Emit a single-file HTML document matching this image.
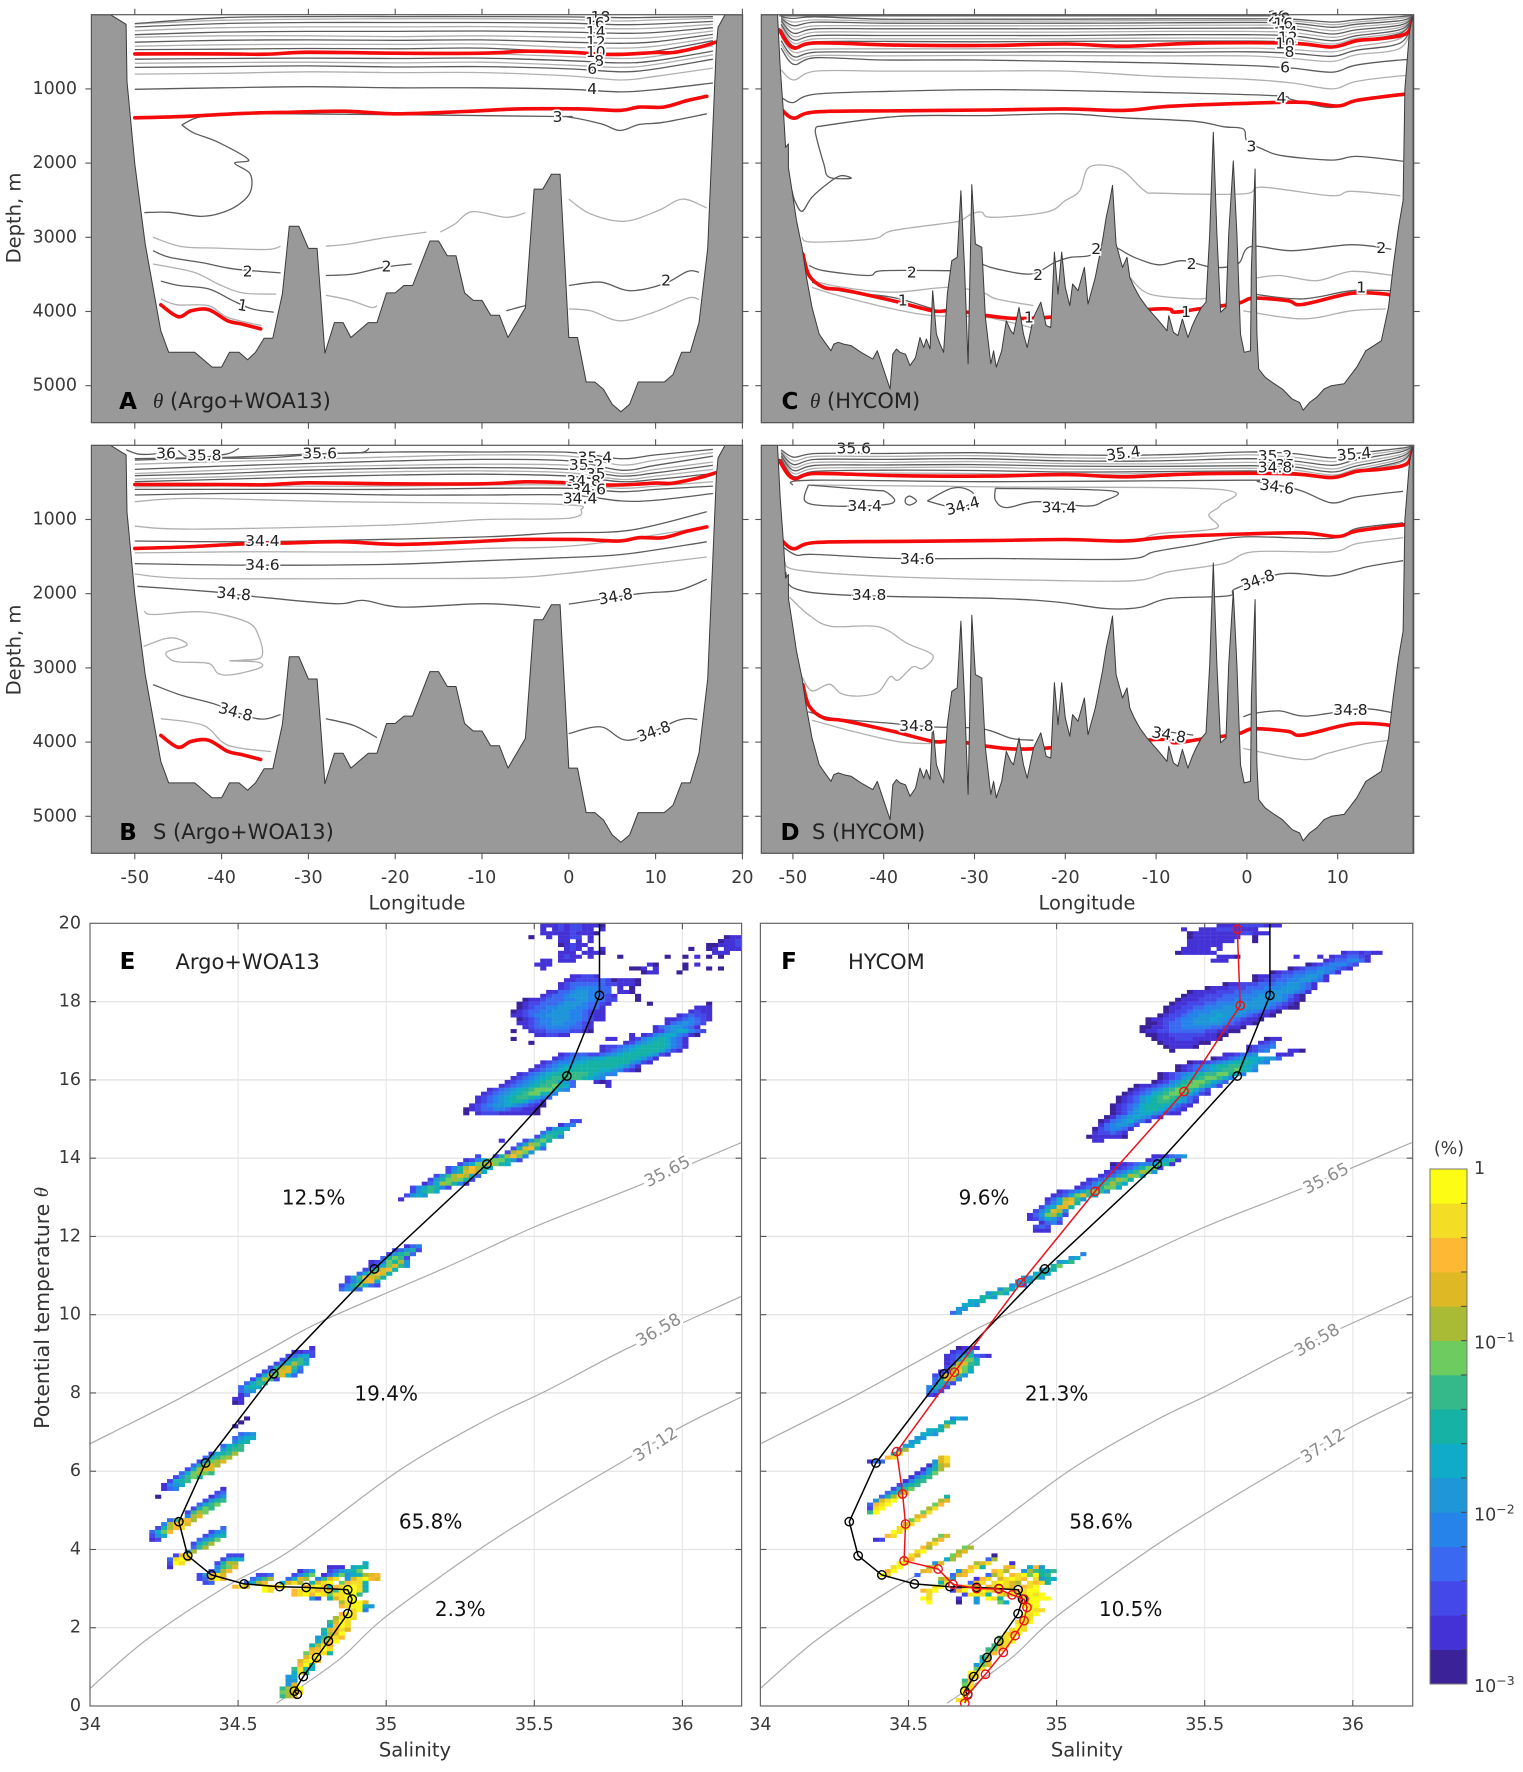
<!DOCTYPE html>
<html lang="en">
<head>
<meta charset="utf-8">
<title>Sections and T-S diagrams</title>
<style>
html,body{margin:0;padding:0;background:#fff}
svg{display:block}
text{font-family:"DejaVu Sans","Liberation Sans",sans-serif;fill:#333}
.ax{font-size:17.5px;fill:#3a3a3a}
.ttl{font-size:19.5px;fill:#333}
.pl{font-size:23px;font-weight:bold;fill:#000}
.cap{font-size:21px;fill:#222}
.pct{font-size:20px;fill:#111}
</style>
</head>
<body>
<svg id="fig" xmlns="http://www.w3.org/2000/svg" width="1523" height="1772" viewBox="0 0 1523 1772">
<defs>
<clipPath id="clipA"><rect x="91.4" y="14.7" width="651.2" height="408"/></clipPath>
<clipPath id="clipB"><rect x="91.4" y="445.3" width="651.2" height="408"/></clipPath>
<clipPath id="clipC"><rect x="761.3" y="14.7" width="652.4" height="408"/></clipPath>
<clipPath id="clipD"><rect x="761.3" y="445.3" width="652.4" height="408"/></clipPath>
<clipPath id="clipE"><rect x="90" y="923.3" width="651.6" height="782.7"/></clipPath>
<clipPath id="clipF"><rect x="760.4" y="923.3" width="652.3" height="782.7"/></clipPath>
</defs>
<g id="layers"></g>
<text class="ttl" transform="translate(14 218) rotate(-90)" text-anchor="middle" dominant-baseline="central">Depth, m</text>
<text class="ttl" transform="translate(14 650) rotate(-90)" text-anchor="middle" dominant-baseline="central">Depth, m</text>
<text class="ttl" x="417" y="903" text-anchor="middle" dominant-baseline="central">Longitude</text>
<text class="ttl" x="1087" y="903" text-anchor="middle" dominant-baseline="central">Longitude</text>
<text class="ttl" x="415" y="1750" text-anchor="middle" dominant-baseline="central">Salinity</text>
<text class="ttl" x="1087" y="1750" text-anchor="middle" dominant-baseline="central">Salinity</text>
<text class="ttl" style="font-size:20.5px" transform="translate(42 1308) rotate(-90)" text-anchor="middle" dominant-baseline="central">Potential temperature <tspan font-style="italic" style="font-family:'Liberation Serif',serif">θ</tspan></text>
<text class="pl" x="128" y="402" text-anchor="middle" dominant-baseline="central">A</text>
<text class="cap" x="153" y="401" dominant-baseline="central"><tspan font-style="italic" style="font-family:'Liberation Serif',serif">θ</tspan> (Argo+WOA13)</text>
<text class="pl" x="128" y="833" text-anchor="middle" dominant-baseline="central">B</text>
<text class="cap" x="153" y="832" dominant-baseline="central">S (Argo+WOA13)</text>
<text class="pl" x="790" y="402" text-anchor="middle" dominant-baseline="central">C</text>
<text class="cap" x="810" y="401" dominant-baseline="central"><tspan font-style="italic" style="font-family:'Liberation Serif',serif">θ</tspan> (HYCOM)</text>
<text class="pl" x="790" y="833" text-anchor="middle" dominant-baseline="central">D</text>
<text class="cap" x="812" y="832" dominant-baseline="central">S (HYCOM)</text>
<text class="pl" x="127.5" y="962" text-anchor="middle" dominant-baseline="central">E</text>
<text class="cap" x="175.5" y="962" dominant-baseline="central">Argo+WOA13</text>
<text class="pl" x="789" y="962" text-anchor="middle" dominant-baseline="central">F</text>
<text class="cap" x="848" y="962" dominant-baseline="central">HYCOM</text>
<text class="ax" x="1449" y="1149" text-anchor="middle" dominant-baseline="central">(%)</text>
</svg>
<script>
/* ---------- axes ---------- */
const depthTicks = [1000,2000,3000,4000,5000];
const lonTicksAB = [-50,-40,-30,-20,-10,0,10,20];
const lonTicksCD = [-50,-40,-30,-20,-10,0,10];
const thetaTicks = [0,2,4,6,8,10,12,14,16,18,20];
const salTicks = [34,34.5,35,35.5,36];
const salTickLabels = ['34','34.5','35','35.5','36'];

/* ---------- bathymetry [lon, depth] ---------- */
const bathyWoa = [[-55,0],[-52.8,0],[-51,130],[-50.9,900],[-50,2010],[-48.8,3090],[-47,4260],[-46.1,4550],[-43.1,4550],[-41.1,4750],[-40,4750],[-39.1,4550],[-38,4550],[-37,4650],[-36.1,4550],[-35.1,4360],[-34.1,4360],[-33,3760],[-32.2,2850],[-31.1,2850],[-30,3150],[-29,3150],[-28.1,4560],[-27,4150],[-26,4150],[-25.1,4350],[-23.1,4150],[-22.1,4150],[-21,3750],[-20,3750],[-19,3650],[-18,3650],[-16,3050],[-15,3050],[-14,3250],[-13,3250],[-12,3750],[-11,3850],[-10,3850],[-9,4050],[-8,4050],[-7,4350],[-5,3950],[-4,2350],[-3,2350],[-2,2150],[-1,2150],[0,4350],[1,4350],[2,4950],[3,4950],[4,5050],[5,5250],[6,5350],[7,5250],[8,4950],[11,4950],[12,4850],[13,4550],[14,4550],[15,4150],[16,3150],[17,400],[17.2,170],[18,0],[20,0],[20,5500],[-55,5500]];
const bathyHycom = [[-53.5,0],[-51.7,0],[-51.4,710],[-51,1380],[-50.8,1790],[-50.5,1740],[-50.5,2060],[-50.1,2370],[-49.6,2775],[-49,3135],[-48.5,3540],[-47.9,3945],[-47.1,4305],[-46.6,4395],[-45.8,4530],[-45.5,4440],[-45,4415],[-44.4,4440],[-43.6,4460],[-42.5,4550],[-41.2,4640],[-40.7,4530],[-40.1,4750],[-39.3,5045],[-39,4575],[-38.6,4505],[-38.2,4550],[-37.6,4575],[-37.1,4730],[-36.5,4620],[-36,4350],[-35.6,4485],[-35.3,4370],[-34.9,4505],[-34.6,3720],[-34.2,4305],[-33.8,4440],[-33.4,4550],[-33,3765],[-32.5,3315],[-31.9,3270],[-31.5,2370],[-31.1,3405],[-30.7,4705],[-30.3,2290],[-29.9,3090],[-29.2,3135],[-28.8,4080],[-28.2,4705],[-27.9,4530],[-27.6,4750],[-27,4530],[-26.5,4125],[-26,4260],[-25.7,4305],[-25.1,3945],[-24.6,4305],[-24.2,4485],[-23.5,4080],[-22.7,3875],[-22.1,4190],[-21.6,4215],[-21.2,3200],[-20.8,3765],[-20.4,3200],[-20,3675],[-19.5,3920],[-19.2,3630],[-18.6,3720],[-17.9,3405],[-17.5,3900],[-16.7,3540],[-15.9,3045],[-15.5,2730],[-15.1,2505],[-14.8,2300],[-14.4,3090],[-13.7,3405],[-13.2,3270],[-12.9,3540],[-12.4,3675],[-11.8,3810],[-11,3945],[-9.7,4125],[-8.8,4260],[-8.6,4055],[-8.1,4280],[-7.6,4325],[-7.1,4100],[-6.5,4350],[-6,4190],[-5.6,4080],[-5,3945],[-4.5,3875],[-4.1,2955],[-3.7,1585],[-3.3,2955],[-2.9,4010],[-2.3,3945],[-2,2955],[-1.5,1970],[-1.1,2955],[-0.7,4305],[-0.3,4550],[0.4,4530],[0.5,3405],[0.9,2080],[1.1,4305],[1.3,4775],[2,4885],[2.8,4955],[3.9,5045],[5,5180],[5.8,5225],[6.2,5330],[6.9,5225],[7.7,5155],[8.5,5045],[9.3,5000],[10.7,4975],[12.1,4750],[13.1,4530],[14.8,4395],[15.6,3945],[16.1,3405],[16.7,2865],[17.2,2505],[17.4,1000],[17.9,235],[18.3,0],[18.3,5500],[-53.5,5500]];

/* ---------- panel A: potential temperature, Argo+WOA13 ---------- */
const lonsWoa = [-50,-40,-30,-20,-10,0,6,10,16.6];
const thetaDarkA = [
 [120,40,25,25,25,30,40,35,25],[165,120,105,105,105,115,135,125,90],[270,235,225,225,220,235,250,240,175],
 [370,345,340,345,340,370,385,365,265],[470,465,455,460,450,505,520,490,350],[600,590,585,590,585,620,650,620,490],
 [710,700,690,705,700,730,770,730,600],[1005,985,970,985,985,1005,1040,1010,920]];
const thetaLightA = [
 [125,75,60,55,55,65,85,70,50],[215,175,165,165,160,175,190,180,130],[305,285,285,295,285,305,320,305,220],
 [425,405,400,400,395,440,450,425,310],[545,530,525,530,525,565,590,560,420],[655,645,640,650,640,680,710,670,540],
 [800,790,770,780,780,825,880,830,720]];
const segDarkA = [
 [[-44.6,1485],[-41.5,1360],[-32,1335],[-2.5,1370],[0,1380],[3.7,1470],[5.9,1560],[8.1,1480],[10.9,1450],[15.9,1335]],
 [[-44.6,1485],[-43.2,1593],[-40.4,1719],[-36.9,1953],[-38.5,2002],[-36.7,2146],[-36.7,2393],[-38.2,2573],[-40.4,2685],[-42.6,2717],[-46,2663],[-48.9,2667]],
 [[-47.9,3180],[-46,3270],[-42.1,3345],[-38.7,3425],[-33.2,3480]],
 [[-28,3515],[-24.8,3495],[-21.4,3405],[-18.1,3360]],
 [[0,3650],[3.7,3605],[7,3720],[10.9,3630],[13.7,3460],[15,3470]],
 [[-47,3590],[-44.9,3650],[-41.5,3695],[-38.7,3855],[-36.5,3965],[-34,4010]],
 [[-7.2,3990],[-5,3920]]];
const segLightA = [
 [[-47.9,3000],[-44.6,3125],[-40.4,3145],[-34.8,3165],[-33.2,3120]],
 [[-28,3120],[-25.3,3090],[-21.4,3010],[-16.4,2930]],
 [[-14.8,2930],[-13.1,2820],[-11.1,2655],[-7.2,2730],[-5,2670]],
 [[0,2485],[2.5,2685],[6.4,2785],[10.3,2640],[13.1,2485],[15.9,2605]],
 [[-47.9,3360],[-43.2,3470],[-40.4,3630],[-37.6,3750],[-33.7,3765]],
 [[-28,3780],[-25.3,3845],[-22.8,3945],[-22.1,3920]],
 [[0,3965],[2.5,3990],[5.9,4125],[9.8,4010],[13.7,3820],[15,3840]],
 [[-47,3830],[-45.1,3910],[-41.5,3920],[-39.3,4080],[-35.4,4190]]];
const densityLayerWoa = [
 [[-50,528],[-40,528],[-35,533],[-30,506],[-20,519],[-10,519],[-5,492],[0,506],[5,537],[10,510],[12,510],[15,438],[16.9,371]],
 [[-50,1390],[-44.3,1370],[-37.6,1330],[-32,1315],[-25.9,1300],[-19.8,1335],[-12,1305],[-5.8,1270],[1.4,1270],[5.9,1290],[8.1,1245],[10.9,1245],[13.7,1155],[15.9,1100]],
 [[-47,3910],[-45,4070],[-43.5,3990],[-41.5,3975],[-39.3,4125],[-37.6,4170],[-35.5,4235]]];
const labelsA = [['18',3.65,30,0],['16',3,115,0],['14',3.1,235,0],['12',3.1,370,0],['10',3.1,505,0],['8',3.5,625,0],['6',2.7,730,0],['4',2.7,1000,0],['3',-1.3,1380,0],['2',-37,3458,0],['2',-21,3395,0],['2',11.2,3584,0],['1',-37.6,3920,10]];

/* ---------- panel B: salinity, Argo+WOA13 ---------- */
const salDarkB = [
 [200,165,120,90,90,95,180,130,55],[325,280,245,210,190,210,335,270,145],[410,380,335,310,300,325,415,370,270],
 [490,460,425,400,390,415,490,460,380],[595,595,595,595,580,580,625,595,550],[670,650,650,670,670,670,750,740,650]];
const salLightB = [
 [255,220,190,155,130,145,265,200,100],[380,335,290,270,255,270,380,325,225],[455,425,380,355,345,370,460,415,325],
 [560,550,550,550,535,535,580,550,490]];
const segDarkB = [
 [[-51,60],[-49.5,120],[-47.5,115]],
 [[-45,70],[-43.5,165],[-39.5,120],[-38,40]],
 [[-50,180],[-43,170],[-35,170],[-28,110],[-24,100],[-23,40]],
 [[-50,1290],[-37.6,1300],[-26.5,1280],[-9.7,1235],[-1.4,1180],[7,1145],[15.9,895]],
 [[-50,1595],[-37.6,1615],[-20.9,1605],[-9.7,1555],[1.4,1505],[7,1460],[15.9,1300]],
 [[-49.7,1900],[-41,1975],[-36.5,2035],[-27,2135],[-23.7,2090],[-19.2,2180],[-9.7,2135],[-3.3,2185]],
 [[0,2140],[8.1,2000],[12.6,1955],[15.9,1805]],
 [[-47.9,3225],[-44.6,3370],[-41,3480],[-35.9,3685],[-33.2,3630]],
 [[-28,3685],[-24.8,3775],[-22.1,3940]],
 [[0,3885],[3.7,3795],[7,3975],[12.6,3705],[14.8,3695]]];
const segLightB = [
 [[-50,760],[-43.2,715],[-26.5,760],[-1.4,795],[1.4,875],[-0.2,985],[-9.7,1000],[-20.9,1075],[-43.2,1130],[-50,1090]],
 [[-50,1450],[-37.6,1435],[-20.9,1435],[-9.7,1390],[1.4,1345],[15.9,1100]],
 [[-50,1735],[-43.2,1795],[-20.9,1795],[-6.9,1785],[1.4,1705],[15.9,1505]],
 [[-48.9,2230],[-47.9,2280],[-42.1,2245],[-37.1,2380],[-35.7,2580],[-35.4,2850],[-37.6,2895],[-39,2905],[-35.9,2920],[-35.5,2995],[-38.7,3090],[-40.4,3075],[-41.5,2940],[-44.9,2920],[-46,2875],[-46.3,2785],[-44,2695],[-45.1,2605],[-46.5,2605],[-49,2710]],
 [[-47,3685],[-42.1,3775],[-39.3,4040],[-34.3,4130]]];
const labelsB = [['36',-46.4,110,0],['35.8',-42,140,0],['35.6',-28.7,110,0],['35.4',3,165,0],['35.2',2,265,0],['35',3.1,390,0],['34.8',1.7,480,0],['34.6',2.3,595,0],['34.4',1.3,715,0],['34.4',-35.3,1290,0],['34.6',-35.3,1615,0],['34.8',-38.6,2005,5],['34.8',5.4,2040,-10],['34.8',-38.4,3595,15],['34.8',9.8,3860,-20]];

/* ---------- panel C: potential temperature, HYCOM ---------- */
const lonsHycom = [-51.3,-49.9,-47.5,-40,-30,-20,-10,0,5,9.4,12,16.9,18.2];
const thetaDarkC = [
 [30,50,30,60,60,60,55,55,60,100,70,25,10],[50,150,100,115,115,115,110,105,115,170,130,80,20],[80,250,190,190,190,190,185,180,190,260,205,140,30],
 [130,340,280,280,280,280,270,270,285,350,285,200,40],[200,425,365,360,365,360,355,355,370,435,355,250,50],[350,565,505,505,505,500,505,500,520,560,480,380,90],
 [450,670,580,610,610,630,650,685,720,775,680,610,610]];
const thetaLightC = [
 [40,100,70,85,85,85,80,80,85,135,100,50,15],[60,193,150,150,150,150,145,140,150,215,165,110,25],[100,295,235,235,235,235,225,225,240,305,245,170,35],
 [160,385,325,325,325,325,315,315,330,395,320,230,45],[300,505,465,460,460,455,460,450,470,500,430,320,70],[400,610,550,555,550,550,555,555,590,630,540,450,110],
 [745,880,760,760,760,760,830,870,920,1000,900,825,825]];
const segDarkC = [
 [[-51.2,1120],[-50,1185],[-47.5,1070],[-38.4,1030],[-27.6,1010],[-11.3,1045],[2.9,1090],[5,1145],[9.3,1250],[13.1,1135],[17.2,1090]],
 [[-47.4,1510],[-38.4,1370],[-28.7,1360],[-20,1335],[-13.5,1390],[-5.9,1435],[-2.6,1510],[-0.4,1540],[0,1700],[1.7,1810],[3.9,1900],[9.3,1960],[12.1,1910],[17.2,1975]],
 [[-47.4,1510],[-47.5,1605],[-46.6,2010],[-46,2190],[-43.6,2205],[-44.7,2170],[-46,2260],[-47.9,2460],[-49,2650],[-49.8,2505],[-50.1,2370]],
 [[-48.2,3380],[-46.6,3450],[-41.7,3515],[-40.1,3450],[-32.5,3450]],
 [[-29.2,3360],[-27.6,3425],[-23.8,3495],[-21.1,3335],[-19.4,3270],[-17.3,3245],[-15.1,3115],[-12.4,3270],[-9.7,3370],[-7,3315],[-3.7,3405],[-1,3360],[0.4,3125],[5,3180],[11.5,3100],[15.9,3160]],
 [[-47.9,3605],[-44.4,3730],[-39,3810],[-34.6,3965]],
 [[0.7,3765],[6.1,3830],[11.5,3720],[15.9,3720]],
 [[-51.5,15],[3,15]]];
const segLightC = [
 [[-49,3000],[-47.9,3065],[-41.2,3020],[-39,2910],[-32.5,2800],[-31.5,2775],[-30.3,2685],[-29.2,2660],[-28.1,2730],[-22.1,2660],[-20,2505],[-18.4,2370],[-17.3,2050],[-14,2080],[-11.3,2370],[-9.7,2405],[-0.4,2415],[1.7,2325],[9.3,2440],[11.5,2380],[16.9,2440]],
 [[-48.5,3495],[-47.7,3585],[-44.4,3675],[-39,3740],[-33,3675],[-29.2,3740],[-27.6,3830],[-23.5,3920]],
 [[-12.9,3540],[-10.7,3765],[-5.6,3830],[-4.2,3810]],
 [[0.4,3560],[3.6,3515],[7.7,3585],[11.5,3460],[16.1,3515]],
 [[-47.9,3675],[-45,3785],[-39,3965],[-34.6,4055],[-28.7,4080],[-23.2,4235]],
 [[-0.4,3990],[6.1,4100],[11.5,3990],[15.3,3965]]];
const densityLayerHycom = [
 [[-51.5,205],[-50,445],[-47.5,380],[-38.4,410],[-28.7,415],[-20,395],[-13.5,425],[-5.9,385],[4.9,385],[9.4,435],[12.1,350],[15,320],[17.6,250],[18.3,45]],
 [[-51.2,1285],[-49.9,1395],[-47.5,1310],[-38.4,1295],[-28.7,1285],[-20,1270],[-13.5,1290],[-8.6,1235],[-0.4,1195],[6.2,1180],[10,1230],[12.1,1155],[17.4,1070]],
 [[-48.9,3225],[-48.2,3515],[-46.6,3675],[-44.4,3710],[-39,3855],[-34.6,3990],[-33,3990],[-30.8,4010],[-28.7,4055],[-23.5,4090],[-9.9,3965],[-8,4010],[-5.3,3965],[-1,3890],[0.7,3820],[4.5,3855],[6.1,3905],[11.5,3755],[15.3,3765],[15.9,3810]]];
const labelsC = [['20',3.4,25,0],['18',3.7,50,0],['16',4,120,0],['14',4.5,235,0],['12',4.5,305,0],['10',4.2,385,0],['8',4.7,505,0],['6',4.2,710,0],['4',3.8,1125,0],['3',0.5,1775,0],['2',-36.9,3475,0],['2',-23,3505,0],['2',-16.6,3155,0],['2',-6.1,3360,0],['2',14.8,3145,0],['1',-37.9,3855,0],['1',-24,4080,0],['1',-6.7,4010,0],['1',12.6,3675,0]];

/* ---------- panel D: salinity, HYCOM ---------- */
const salDarkD = [
 [60,160,110,110,100,130,130,90,110,170,110,40,10],[100,260,190,190,180,210,210,180,210,270,195,90,20],[140,340,270,265,260,280,285,275,290,360,280,155,40],
 [180,420,350,335,340,360,355,345,365,430,350,215,60]];
const salLightD = [
 [80,210,150,150,140,170,170,130,160,220,150,65,15],[120,300,230,230,220,245,250,230,250,320,240,125,30],[160,380,310,300,295,320,320,310,330,400,320,185,50],
 [200,460,385,375,380,395,380,375,395,445,365,235,70]];
const segDarkD = [
 [[-50.1,535],[-47.9,470],[-27.6,490],[-0.4,470],[1.3,490],[5.8,605],[9.3,775],[12.1,695],[17.2,620]],
 [[-48.3,535],[-41.2,605],[-39.8,625],[-38.8,750],[-40.3,805],[-45.5,820],[-48.6,760],[-48.3,535]],
 [[-37.6,715],[-37.1,685],[-36.4,750],[-37.1,805],[-37.6,775],[-37.6,715]],
 [[-35.2,750],[-32.5,580],[-30.6,605],[-29.8,740],[-31.9,850],[-33.6,805],[-35.2,750]],
 [[-27.7,580],[-14.9,615],[-15.9,760],[-17.8,820],[-23.2,760],[-26.5,840],[-27.7,740],[-27.7,580]],
 [[-51.1,1370],[-49.6,1480],[-47.7,1470],[-38.4,1525],[-27.6,1525],[-13.5,1535],[-10.2,1435],[-5.9,1345],[-0.4,1235],[9.3,1255],[12.1,1120],[17.2,1045]],
 [[-50.8,1705],[-49.8,1930],[-43.9,2020],[-27.6,2065],[-21.1,2110],[-15.6,2200],[-11.8,2185],[-8.6,2065],[-2.1,2030],[-1.2,1930],[3.9,1730],[9.3,1760],[13.1,1640],[17.2,1555]],
 [[-48.3,3590],[-45.5,3680],[-39,3750],[-34.6,3795],[-29.2,3820],[-25.9,3950],[-23.5,3975]],
 [[-10.2,3840],[-5.9,3905]],
 [[-0.4,3660],[0.7,3615],[3.6,3580],[6.6,3650],[12.6,3550],[16.1,3605]]];
const segLightD = [
 [[-47.9,535],[-27.6,560],[-3.1,595],[-2.9,805],[-4.2,940],[-3.4,1120],[-9.7,1190],[-11.3,1255]],
 [[-50.9,1570],[-49.3,1685],[-38.4,1775],[-22.1,1820],[-12.4,1825],[-8.6,1705],[-2.6,1595],[0.7,1435],[9.3,1435],[12.1,1325],[17.2,1245]],
 [[-50.4,2045],[-48.2,2290],[-45.8,2440],[-40.6,2445],[-37.4,2670],[-34.6,2830],[-35.7,3010],[-36.8,2985],[-38.4,3165],[-39.3,3120],[-40.6,3325],[-42.8,3380],[-44.7,3345],[-46,3220],[-47.9,3310],[-49,3120]],
 [[-47.9,3705],[-43.9,3840],[-38.4,3995],[-34.6,4020]],
 [[-0.4,4085],[6.1,4235],[8.8,4155],[13.1,4020],[15.9,3975]]];
const labelsD = [['35.6',-43.3,40,0],['35.4',-13.6,110,-8],['35.2',3.1,145,0],['35',4.2,265,0],['34.8',3.1,300,0],['34.6',3.3,560,8],['35.4',11.8,120,-5],['34.4',-42.1,820,0],['34.4',-31.3,820,-15],['34.4',-20.7,840,0],['34.6',-36.3,1535,0],['34.8',-41.6,2020,0],['34.8',1.2,1820,-20],['34.8',-36.4,3785,0],['34.8',-8.6,3905,10],['34.8',11.4,3570,0]];

/* ---------- T-S diagrams: density curves [S, theta] ---------- */
const sigma3565 = [[34,6.7],[34.3,7.85],[34.6,9.09],[34.79,9.86],[35.2,11.2],[35.5,12.24],[35.84,13.26],[36.2,14.4]];
const sigma3658 = [[34,0.45],[34.19,1.69],[34.45,3.01],[34.68,3.99],[35.04,6],[35.33,7.28],[35.55,8.09],[35.82,9.16],[36.2,10.47]];
const sigma3712 = [[34.63,0.07],[34.84,1.18],[35,2.29],[35.33,4.08],[35.58,5.27],[35.81,6.3],[36,7.15],[36.2,7.9]];
const curveLabelsE = [['35.65',35.95,13.65,-27],['36.58',35.92,9.6,-30],['37.12',35.91,6.68,-33]];
const curveLabelsF = [['35.65',35.91,13.47,-27],['36.58',35.88,9.34,-30],['37.12',35.9,6.64,-33]];
const pctLabelsE = [['12.5%',34.755,13.0],['19.4%',35.0,7.98],['65.8%',35.15,4.72],['2.3%',35.25,2.48]];
const pctLabelsF = [['9.6%',34.755,13.0],['21.3%',35.0,7.98],['58.6%',35.15,4.72],['10.5%',35.25,2.48]];

/* mean profiles [S, theta] */
const profileArgo = [[35.72,20],[35.72,18.16],[35.61,16.1],[35.34,13.85],[34.96,11.17],[34.62,8.49],[34.39,6.21],[34.3,4.71],[34.33,3.84],[34.41,3.35],[34.52,3.12],[34.64,3.05],[34.73,3.03],[34.805,3],[34.87,2.97],[34.885,2.73],[34.87,2.36],[34.805,1.66],[34.765,1.24],[34.72,0.75],[34.69,0.38],[34.7,0.3]];
const profileHycom = [[35.61,20],[35.61,19.85],[35.62,17.9],[35.43,15.7],[35.13,13.15],[34.88,10.82],[34.655,8.53],[34.46,6.5],[34.48,5.42],[34.49,4.65],[34.485,3.71],[34.6,3.5],[34.65,3.11],[34.73,3],[34.805,2.99],[34.85,2.84],[34.89,2.73],[34.9,2.52],[34.89,2.18],[34.86,1.8],[34.82,1.37],[34.76,0.81],[34.7,0.28],[34.69,0.07]];

/* colour levels, darkest (10^-3) to brightest (1) */
const colorLevels = ['#3b2299','#4532d6','#4548e8','#3b68f0','#2583ea','#1f96d8','#0fabc8','#15b2a5','#35b98b','#6ccc5f','#a9bb35','#dfb925','#fdb933','#f3dd25','#fcfc14'];
const colorbarLabels = [[0,'10','−3'],[5,'10','−2'],[10,'10','−1'],[15,'1','']];

/* heatmap rows: [theta bin, first salinity bin, level per 0.02 salinity bin (.=empty)] */
const cellsE = [
[19.9,35.52,"11121221110"],[19.8,35.52,"1.1212211.1"],[19.7,35.52,"1111121110"],[19.6,35.48,"0..1.1122.1"],[19.5,35.58,"11.1.1"],[19.4,35.58,"01211"],[19.3,35.6,"121.1.1"],[19.2,35.58,"111.1110"],[19.1,35.58,"1211.1"],[19,35.52,"11.111"],[18.9,35.5,"111"],[18.8,35.52,"1"],
[19.6,36.14,"0111"],[19.5,36.12,"01121"],[19.4,36.08,"0011121"],[19.3,36.08,"01.111"],[19.3,36.02,"0"],[19.2,36.1,"111"],[19.1,35.78,"0"],[19.1,35.94,"0"],[19.1,36,"0.1"],[19.1,36.08,"0.0"],[18.9,35.88,"10"],[18.9,36,"0"],[18.9,36.04,"1"],[18.8,35.82,"001"],[18.8,35.9,"1"],[18.8,36,"0"],[18.8,36.08,"0.0"],[18.7,35.86,"011"],[18.7,35.98,"0"],
[18.6,35.62,"11221"],[18.5,35.6,"11222232"],[18.5,35.76,"01110"],[18.4,35.58,"1233333322"],[18.4,35.78,"1110"],[18.3,35.58,"123444433"],[18.3,35.78,"1.0"],[18.2,35.54,"11334554433"],[18.2,35.78,"110"],[18.1,35.52,"1233455544321"],[18.1,35.84,"0"],[18,35.46,"0112333445544322"],[18,35.84,"0"],[17.9,35.44,"0122333455543321"],[17.9,35.88,"0"],[17.8,35.44,"012334455544331"],[17.7,35.42,"0123344555443211"],[17.6,35.42,"1123445555443211"],[17.5,35.44,"012344555443211"],[17.4,35.44,"1123445544321"],[17.3,35.46,"123344443321"],[17.2,35.42,"0..12233332210"],[17.1,35.5,"112211"],[17,35.42,"0"],[16.9,35.48,"0"],
[17.9,36.08,"0"],[17.8,36.04,"111"],[17.7,36.02,"1211"],[17.6,35.98,"123221"],[17.5,35.94,"11234321"],[17.4,35.94,"1345432"],[17.3,35.9,"13455431"],[17.2,35.9,"124566432"],[17.1,35.82,"1.1245664310"],[17,35.74,"11"],[17,35.82,"1245676431"],[16.9,35.8,"12456776431"],[16.8,35.72,"122345677776431"],[16.7,35.72,"12345677776421"],[16.6,35.58,"1233322345677776521"],[16.5,35.56,"123445566777776531"],[16.4,35.52,"1234456677777775421"],[16.3,35.5,"123456677777776531"],[16.2,35.48,"1234567777776654210"],[16.1,35.44,"12345677888876544"],[16,35.42,"1234567888887654"],[15.9,35.4,"123456788653"],[15.9,35.7,"101"],[15.8,35.38,"1234567889763"],[15.8,35.74,"1"],[15.7,35.34,"12345678999754"],[15.6,35.32,"1234567899764"],[15.5,35.3,"1234567887643"],[15.4,35.3,"123456776431"],[15.3,35.28,"1234556543210"],[15.2,35.26,"0123344322110"],[15.1,35.26,"0.12221111110"],
[14.9,35.62,"22"],[14.8,35.58,"134"],[14.7,35.54,"2566"],[14.6,35.52,"3677"],[14.5,35.5,"26874"],[14.4,35.38,"1"],[14.4,35.46,"25897"],[14.3,35.44,"36a96"],[14.2,35.42,"27bc73"],[14.1,35.4,"2ab95"],[14,35.3,"2"],[14,35.36,"27ac94"],[13.9,35.26,"1246999752"],[13.8,35.24,"2469ab976"],[13.7,35.2,"247aca86"],[13.6,35.2,"257bca6"],[13.5,35.16,"258aba63"],[13.4,35.14,"2579a972"],[13.3,35.12,"136a9741"],[13.2,35.08,"2468742"],[13.1,35.08,"25786"],[13,35.06,"2565"],[12.9,35.04,"1"],
[11.7,35.06,"134"],[11.6,35.02,"23572"],[11.5,35,"25783"],[11.4,34.98,"37982"],[11.3,34.94,"12497a5"],[11.2,34.94,"1369b85"],[11.1,34.92,"258bc7"],[11,34.9,"369cb7"],[10.9,34.86,"258cba7"],[10.8,34.86,"247bc6"],[10.7,34.84,"2479632"],[10.6,34.84,"3553"],
[9.1,34.74,"1"],[9,34.68,"1122"],[8.9,34.66,"23562"],[8.8,34.64,"25785"],[8.7,34.62,"257a86"],[8.6,34.6,"27ab84"],[8.5,34.58,"249bb63"],[8.4,34.56,"26a9b63"],[8.3,34.54,"26a82"],[8.2,34.52,"3687"],[8.1,34.5,"3676"],[8,34.5,"355"],[7.9,34.5,"13"],[7.8,34.48,"11"],[7.7,34.48,"01"],[7.3,34.52,"0"],[7.2,34.5,"0"],[7.1,34.48,"0"],
[6.9,34.5,"345"],[6.8,34.48,"3566"],[6.7,34.48,"467"],[6.6,34.44,"3678"],[6.5,34.44,"5788"],[6.4,34.4,"2678a"],[6.3,34.38,"3689a"],[6.2,34.36,"269ab"],[6.1,34.34,"37aba"],[6,34.32,"26abb"],[5.9,34.3,"369a98"],[5.8,34.28,"25897"],[5.7,34.26,"2678"],[5.6,34.24,"1456"],[5.5,34.24,"134"],[5.3,34.22,"0"],
[5.5,34.44,"1"],[5.4,34.42,"23"],[5.3,34.4,"135"],[5.2,34.38,"2578"],[5.1,34.36,"3689"],[5,34.34,"2798"],[4.9,34.32,"28a9"],[4.8,34.32,"4ab"],[4.7,34.26,"38bca"],[4.6,34.24,"4acdb"],[4.5,34.22,"27acd"],[4.4,34.2,"369c"],[4.3,34.2,"256"],[4.2,34.2,"12"],
[4.5,34.44,"3"],[4.4,34.4,"245"],[4.3,34.38,"2467"],[4.2,34.36,"3579"],[4.1,34.34,"268a"],[4,34.34,"38a"],[3.9,34.32,"5a"],[3.8,34.28,"2bd"],[3.7,34.26,"3dec"],[3.6,34.26,"2ed"],[3.5,34.26,"1"],
[3.8,34.46,"222"],[3.7,34.44,"2566"],[3.6,34.42,"27aa"],[3.5,34.42,"489b"],[3.4,34.4,"25ac"],[3.3,34.36,"25cdb"],[3.2,34.36,"23bec"],[3.1,34.38,"23"],
[3.6,34.92,"6"],[3.5,34.8,"111"],[3.5,34.88,"677"],[3.4,34.7,"135"],[3.4,34.8,"2356"],[3.4,34.88,"79"],[3.3,34.56,"223"],[3.3,34.68,"2479"],[3.3,34.78,"1369a"],[3.3,34.86,"567abc"],[3.2,34.54,"358a"],[3.2,34.66,"36ba"],[3.2,34.76,"48bd"],[3.2,34.86,"5bdecb"],[3.1,34.52,"36ac"],[3.1,34.64,"6bda"],[3.1,34.74,"7bde"],[3.1,34.84,"9cdd7"],[3,34.48,"cdb"],[3,34.58,"edce"],[3,34.72,"cdec"],[3,34.8,"7cdeed6"],[2.9,34.58,"ed"],[2.9,34.68,"cdedcdb"],[2.9,34.82,"8deed7"],[2.8,34.68,"cdec"],[2.8,34.76,"ed"],[2.8,34.8,"9ddee8"],[2.7,34.74,"52"],[2.7,34.8,"7bdee"],[2.6,34.84,"adeeb"],[2.5,34.84,"cdee65"],[2.4,34.88,"de4"],
[2.3,34.84,"ced"],[2.2,34.82,"aded"],[2.1,34.8,"8bed"],[2,34.8,"6ced"],[1.9,34.78,"7bcdb"],[1.8,34.78,"6abe"],[1.7,34.76,"58bdc"],[1.6,34.76,"6ace"],[1.5,34.74,"7adc"],[1.4,34.74,"bced"],[1.3,34.72,"9cdd7"],[1.2,34.72,"bde"],[1.1,34.7,"bdec"],[1,34.7,"ce7"],[0.9,34.68,"8d76"],[0.8,34.68,"6d7"],[0.7,34.66,"56"],[0.6,34.66,"55"],[0.5,34.66,"5b"],[0.4,34.64,"8ade"],[0.3,34.64,"9abd"],[0.2,34.64,"8ab"]
];
const cellsF = [
[19.9,35.54,"11112222111"],[19.8,35.42,"1..1112221111"],[19.7,35.44,"01111111122111"],[19.6,35.44,"011111111"],[19.6,35.66,"0"],[19.5,35.44,"11111111"],[19.5,35.66,"0"],[19.4,35.44,"111111"],[19.3,35.42,"11111.1"],[19.2,35.4,"0111111"],[19.1,35.54,"1110"],[19,35.52,"111"],
[19.2,35.96,"1221211"],[19.1,35.8,"1"],[19.1,35.88,"1"],[19.1,35.92,"1223321"],[19,35.9,"12334431"],[18.9,35.84,"012344432"],[18.8,35.78,"01233444321"],[18.7,35.72,"012233445431"],[18.6,35.66,"0112233445541"],[18.5,35.66,"0122334455431"],[18.4,35.56,"0112223334455431"],[18.3,35.5,"0111222333444555431"],[18.2,35.44,"011112223334445555431"],[18.1,35.42,"011122233344455554310"],[18,35.4,"0111222333444555554210"],[17.9,35.38,"0112223344455555543210"],[17.8,35.36,"01122334445555555432100"],[17.7,35.36,"01223444555555443210"],[17.6,35.34,"01223445556555432110"],[17.5,35.3,"01122344555655432110"],[17.4,35.3,"0012334455555432110"],[17.3,35.28,"001123344444332110"],[17.2,35.28,"01122333333221100"],[17.1,35.3,"00112222221100"],[17,35.32,"011122211110"],[16.9,35.34,"011111100"],[16.8,35.36,"011110"],[16.7,35.38,"0"],
[17,35.7,"011"],[16.9,35.68,"123"],[16.8,35.64,"12334"],[16.7,35.64,"1234"],[16.7,35.78,"110"],[16.6,35.56,"112345"],[16.6,35.74,"111"],[16.5,35.52,"012345666553"],[16.4,35.44,"01123456777654"],[16.3,35.4,"01234567788765"],[16.2,35.4,"01234567889764"],[16.1,35.34,"012345678899764"],[16,35.34,"0123567899864"],[15.9,35.32,"0124578998653"],[15.8,35.26,"011234578998642"],[15.7,35.24,"01234578998642"],[15.6,35.22,"012346789986421"],[15.5,35.2,"01235678987532"],[15.4,35.2,"01235678876531"],[15.3,35.18,"01234677765321"],[15.2,35.18,"0123567765321"],[15.1,35.18,"012456654211"],[15,35.16,"0134565421"],[14.9,35.14,"013456431"],[14.8,35.14,"1345542"],[14.7,35.12,"0234431"],[14.6,35.12,"122321"],[14.5,35.1,"0111110"],[14.4,35.12,"11"],
[14,35.32,"112345"],[13.9,35.3,"125681"],[13.8,35.18,"01123446871"],[13.7,35.18,"112357992"],[13.6,35.16,"123468a95"],[13.5,35.14,"12357a96"],[13.4,35.1,"12368a97"],[13.3,35.08,"12468a86"],[13.2,35.06,"12347996"],[13.1,35,"123468a85"],[13,34.98,"12369b86"],[12.9,34.96,"136ab85"],[12.8,34.96,"246bc7"],[12.7,34.94,"256bb7"],[12.6,34.92,"247ba4"],[12.5,34.9,"1359a72"],[12.4,34.9,"124653"],[12.3,34.94,"1342"],[12.2,34.92,"232"],[12.1,34.92,"111"],
[11.5,35.08,"4"],[11.4,35.04,"56"],[11.3,35,"568"],[11.2,34.98,"79"],[11.1,34.94,"577"],[11,34.92,"676"],[10.9,34.88,"5585"],[10.8,34.86,"566"],[10.7,34.84,"563"],[10.6,34.8,"586"],[10.5,34.76,"5786"],[10.4,34.74,"775"],[10.3,34.7,"667"],[10.2,34.68,"665"],[10.1,34.66,"55"],[10,34.64,"35"],
[9.1,34.66,"0121"],[9,34.64,"1225"],[8.9,34.62,"12367321"],[8.8,34.62,"125996"],[8.7,34.62,"12ab87"],[8.6,34.62,"29c97"],[8.5,34.6,"13ad96"],[8.4,34.58,"23bd85"],[8.3,34.58,"36ba4"],[8.2,34.58,"3752"],[8.1,34.56,"4752"],[8,34.56,"442"],[7.9,34.56,"21"],
[7.3,34.64,"465"],[7.2,34.62,"77"],[7.1,34.6,"6a"],[7,34.56,"667"],[6.9,34.54,"665"],[6.8,34.52,"55"],[6.7,34.5,"56"],[6.6,34.48,"56"],[6.5,34.46,"6a"],[6.4,34.44,"7d"],[6.3,34.42,"cd"],[6.2,34.36,"143"],
[6.3,34.6,"bd"],[6.2,34.58,"5bd"],[6.1,34.56,"16ab"],[6,34.54,"157a"],[5.9,34.52,"1369"],[5.8,34.5,"1478"],[5.7,34.48,"1478"],[5.6,34.46,"2578"],[5.5,34.44,"2689"],[5.4,34.42,"368b"],[5.3,34.4,"37ad"],[5.2,34.38,"5bde"],[5.1,34.36,"3cde"],[5,34.36,"2de"],[4.9,34.36,"8e"],
[5.3,34.62,"7"],[5.2,34.6,"ab"],[5.1,34.58,"9c"],[5,34.56,"ad"],[4.9,34.54,"9d"],[4.8,34.52,"bc"],[4.7,34.5,"9d"],[4.6,34.48,"bd"],[4.5,34.46,"de"],[4.4,34.44,"ed"],[4.3,34.42,"cd"],[4.2,34.38,"12"],
[4.3,34.6,"9b"],[4.2,34.58,"ac"],[4.1,34.56,"bd"],[4,34.54,"ca"],[3.9,34.52,"de"],[3.8,34.5,"db"],[3.7,34.48,"ec"],[3.6,34.46,"ed"],[3.5,34.44,"de"],[3.4,34.42,"ce"],[3.3,34.4,"ed"],
[4,34.68,"9a"],[3.9,34.66,"ab"],[3.8,34.64,"9b"],[3.8,34.78,"0"],[3.7,34.62,"6a"],[3.7,34.76,"3a"],[3.6,34.58,"5b"],[3.6,34.72,"abd"],[3.6,34.84,"1"],[3.5,34.56,"ab"],[3.5,34.7,"cd7"],[3.5,34.82,"cb"],[3.5,34.9,"6c5"],[3.4,34.54,"bc"],[3.4,34.66,"5bd"],[3.4,34.78,"cda"],[3.4,34.88,"5a8"],[3.4,34.94,"768"],[3.3,34.52,"3"],[3.3,34.64,"3bc"],[3.3,34.76,"3ad"],[3.3,34.84,"cde9"],[3.3,34.92,"e78"],[3.2,34.6,"ab5"],[3.2,34.72,"1cd"],[3.2,34.8,"bdedc"],[3.2,34.92,"d57"],[3.2,34.98,"6"],[3.1,34.6,"7d"],[3.1,34.7,"3cd"],[3.1,34.78,"dedba"],[3.1,34.9,"dcd7"],[3,34.58,"de"],[3,34.66,"1cdd"],[3,34.76,"cdedb"],[3,34.88,"cde"],[2.9,34.54,"cde"],[2.9,34.64,"2ce"],[2.9,34.72,"cedbc"],[2.9,34.84,"dcdee"],[2.8,34.56,"d"],[2.8,34.68,"2"],[2.8,34.7,"ded7"],[2.8,34.8,"dbded"],[2.8,34.9,"ede"],[2.7,34.54,"ed"],[2.7,34.66,"1"],[2.7,34.72,"5"],[2.7,34.76,"ed7"],[2.7,34.88,"deeee"],[2.6,34.56,"e"],[2.6,34.66,"0"],[2.6,34.72,"5"],[2.6,34.8,"96"],[2.6,34.88,"dee"],[2.5,34.88,"ede"],[2.4,34.9,"edd"],
[2.3,34.88,"ede"],[2.2,34.88,"ed"],[2.1,34.86,"dde"],[2,34.86,"ed"],[1.9,34.84,"ded"],[1.8,34.82,"dce"],[1.7,34.8,"9de"],[1.6,34.8,"ade"],[1.5,34.78,"8bd"],[1.4,34.76,"89c"],[1.3,34.76,"9c"],[1.2,34.74,"7a"],[1.1,34.74,"6c"],[1,34.72,"59b"],[0.9,34.72,"9d"],[0.8,34.7,"ed"],[0.7,34.7,"bd"],[0.6,34.68,"8c"],[0.5,34.68,"9d"],[0.4,34.68,"dd"],[0.3,34.68,"e"],[0.2,34.68,"e"],[0.1,34.66,"de"]
];

/* ---------- axis functions ---------- */
const NS = 'http://www.w3.org/2000/svg';
const root = document.getElementById('layers');
function mk(tag, attrs, parent) {
  const el = document.createElementNS(NS, tag);
  for (const k in attrs) el.setAttribute(k, attrs[k]);
  parent.appendChild(el);
  return el;
}
const xWoa = lon => 91.4 + (lon + 55) * 8.68;
const xHycom = lon => 792.9 + (lon + 50) * 9.08;
const depthY = top => d => top + d * 0.0742;
const tsX = left => s => left + (s - 34) * 296.2;
const tsY = t => 1706 - t * 39.13;
const pathOf = (pts, fx, fy) => pts.map((p, i) => (i ? 'L' : 'M') + fx(p[0]).toFixed(1) + ' ' + fy(p[1]).toFixed(1)).join('');
function smoothOf(pts, fx, fy) {
  const P = pts.map(p => [fx(p[0]), fy(p[1])]);
  let d = 'M' + P[0][0].toFixed(1) + ' ' + P[0][1].toFixed(1);
  for (let i = 0; i < P.length - 1; i++) {
    const a = P[i - 1] || P[i], b = P[i], c = P[i + 1], e = P[i + 2] || c;
    d += 'C' + (b[0] + (c[0] - a[0]) / 6).toFixed(1) + ' ' + (b[1] + (c[1] - a[1]) / 6).toFixed(1) + ' ' +
         (c[0] - (e[0] - b[0]) / 6).toFixed(1) + ' ' + (c[1] - (e[1] - b[1]) / 6).toFixed(1) + ' ' +
         c[0].toFixed(1) + ' ' + c[1].toFixed(1);
  }
  return d;
}

function drawContour(g, pts, fx, fy, color) {
  const el = mk('path', {d: smoothOf(pts, fx, fy), fill: 'none', stroke: color, 'stroke-width': 1.3, 'stroke-linejoin': 'round'}, g);
  
  
}
function drawGridContour(g, lons, depths, fx, fy, color) {
  drawContour(g, lons.map((lon, i) => [lon, depths[i]]), fx, fy, color);
}
function drawLayer(g, pts, fx, fy) {
  const el = mk('path', {d: smoothOf(pts, fx, fy), fill: 'none', stroke: '#f40a0a', 'stroke-width': 3.6, 'stroke-linejoin': 'round', 'stroke-linecap': 'round'}, g);
  
  
}
function drawBathy(g, pts, fx, fy) {
  const el = mk('path', {d: pathOf(pts, fx, fy) + 'Z', fill: '#999999', stroke: '#3a3a3a', 'stroke-width': 1, 'stroke-linejoin': 'round'}, g);
  
  
}
function drawContourLabel(g, item, fx, fy) {
  const x = fx(item[1]), y = fy(item[2]);
  const el = mk('text', {x: x, y: y, 'text-anchor': 'middle', 'dominant-baseline': 'central', 'font-size': 15.5, style: 'fill:#222;stroke:#fff;stroke-width:3.5px;paint-order:stroke', transform: 'rotate(' + item[3] + ' ' + x + ' ' + y + ')'}, g);
  el.textContent = item[0];
  
  
}
function drawFrame(g, l, t, w, h, color) {
  const el = mk('rect', {x: l, y: t, width: w, height: h, fill: 'none', stroke: color, 'stroke-width': 1.2}, g);
  
  
}
function drawTick(g, x1, y1, x2, y2) {
  const el = mk('line', {x1: x1, y1: y1, x2: x2, y2: y2, stroke: '#555', 'stroke-width': 1.1}, g);
  
  
}
function drawTickLabel(g, x, y, anchor, str) {
  const el = mk('text', {x: x, y: y, 'text-anchor': anchor, 'dominant-baseline': 'central', 'class': 'ax'}, g);
  el.textContent = str;
  
  
}

function sectionPanel(cfg) {
  const g = mk('g', {}, root);
  
  
  const fy = depthY(cfg.top), fx = cfg.fx;
  const c = mk('g', {'clip-path': 'url(#' + cfg.clip + ')'}, g);
  
  
  cfg.light.forEach(d => drawGridContour(c, cfg.lons, d, fx, fy, '#b0b0b0'));
  cfg.dark.forEach(d => drawGridContour(c, cfg.lons, d, fx, fy, '#5c5c5c'));
  cfg.segLight.forEach(s => drawContour(c, s, fx, fy, '#b0b0b0'));
  cfg.segDark.forEach(s => drawContour(c, s, fx, fy, '#5c5c5c'));
  cfg.layers.forEach(s => drawLayer(c, s, fx, fy));
  drawBathy(c, cfg.bathy, fx, fy);
  cfg.labels.forEach(it => drawContourLabel(g, it, fx, fy));
  drawFrame(g, cfg.left, cfg.top, cfg.right - cfg.left, 408, '#555');
  cfg.lonTicks.forEach(v => {
    drawTick(g, fx(v), cfg.top, fx(v), cfg.top - 6);
    drawTick(g, fx(v), cfg.top + 408, fx(v), cfg.top + 414);
    if (cfg.xLabels) drawTickLabel(g, fx(v), 878, 'middle', String(v));
  });
  depthTicks.forEach(v => {
    drawTick(g, cfg.left, fy(v), cfg.left - 6, fy(v));
    drawTick(g, cfg.right, fy(v), cfg.right + 6, fy(v));
    if (cfg.yLabels) drawTickLabel(g, 77, fy(v), 'end', String(v));
  });
}
sectionPanel({id:'a',top:14.7,left:91.4,right:742.6,clip:'clipA',fx:xWoa,lons:lonsWoa,dark:thetaDarkA,light:thetaLightA,segDark:segDarkA,segLight:segLightA,layers:densityLayerWoa,bathy:bathyWoa,labels:labelsA,lonTicks:lonTicksAB,xLabels:false,yLabels:true});
sectionPanel({id:'b',top:445.3,left:91.4,right:742.6,clip:'clipB',fx:xWoa,lons:lonsWoa,dark:salDarkB,light:salLightB,segDark:segDarkB,segLight:segLightB,layers:densityLayerWoa,bathy:bathyWoa,labels:labelsB,lonTicks:lonTicksAB,xLabels:true,yLabels:true});
sectionPanel({id:'c',top:14.7,left:761.3,right:1413.7,clip:'clipC',fx:xHycom,lons:lonsHycom,dark:thetaDarkC,light:thetaLightC,segDark:segDarkC,segLight:segLightC,layers:densityLayerHycom,bathy:bathyHycom,labels:labelsC,lonTicks:lonTicksCD,xLabels:false,yLabels:false});
sectionPanel({id:'d',top:445.3,left:761.3,right:1413.7,clip:'clipD',fx:xHycom,lons:lonsHycom,dark:salDarkD,light:salLightD,segDark:segDarkD,segLight:segLightD,layers:densityLayerHycom,bathy:bathyHycom,labels:labelsD,lonTicks:lonTicksCD,xLabels:true,yLabels:false});

function drawCells(g, rows, fx) {
  rows.forEach(row => {
    const levels = row[2];
    for (let i = 0; i < levels.length; i++) {
      if (levels[i] === '.') continue;
      const s = row[1] + i * 0.02;
      const r = mk('rect', {x: fx(s).toFixed(2), y: (tsY(row[0] + 0.1)).toFixed(2), width: 6.1, height: 4.1, fill: colorLevels[parseInt(levels[i], 16)]}, g);
      
      
    }
  });
}
function drawProfile(g, pts, fx, color) {
  const el = mk('path', {d: pathOf(pts, fx, tsY), fill: 'none', stroke: color, 'stroke-width': 1.5, 'stroke-linejoin': 'round'}, g);
  
  
  pts.slice(1).forEach(p => {
    const m = mk('circle', {cx: fx(p[0]), cy: tsY(p[1]), r: 4.2, fill: 'none', stroke: color, 'stroke-width': 1.4}, g);
    
    
  });
}
function tsPanel(cfg) {
  const g = mk('g', {}, root);
  
  
  const fx = tsX(cfg.left);
  const c = mk('g', {'clip-path': 'url(#' + cfg.clip + ')'}, g);
  
  
  salTicks.slice(1).forEach(v => {
    const el = mk('line', {x1: fx(v), y1: 923.3, x2: fx(v), y2: 1706, stroke: '#e4e4e4', 'stroke-width': 1}, c);
    
    
  });
  thetaTicks.slice(1, -1).forEach(v => {
    const el = mk('line', {x1: cfg.left, y1: tsY(v), x2: cfg.right, y2: tsY(v), stroke: '#e4e4e4', 'stroke-width': 1.3}, c);
    
    
  });
  [sigma3565, sigma3658, sigma3712].forEach(curve => {
    const el = mk('path', {d: smoothOf(curve, fx, tsY), fill: 'none', stroke: '#aaaaaa', 'stroke-width': 1.2}, c);
    
    
  });
  cfg.curveLabels.forEach(it => {
    const x = fx(it[1]), y = tsY(it[2]);
    const el = mk('text', {x: x, y: y, 'text-anchor': 'middle', 'dominant-baseline': 'central', 'font-size': 17, style: 'fill:#8c8c8c;stroke:#fff;stroke-width:6px;paint-order:stroke', transform: 'rotate(' + it[3] + ' ' + x + ' ' + y + ')'}, c);
    el.textContent = it[0];
    
    
  });
  drawCells(c, cfg.cells, fx);
  drawProfile(c, profileArgo, fx, '#000');
  if (cfg.red) drawProfile(c, profileHycom, fx, '#e8141c');
  cfg.pct.forEach(it => {
    const el = mk('text', {x: fx(it[1]), y: tsY(it[2]), 'text-anchor': 'middle', 'dominant-baseline': 'central', 'class': 'pct'}, g);
    el.textContent = it[0];
    
    
  });
  drawFrame(g, cfg.left, 923.3, cfg.right - cfg.left, 782.7, '#666');
  thetaTicks.slice(1, -1).forEach(v => {
    drawTick(g, cfg.left, tsY(v), cfg.left + 6, tsY(v));
    drawTick(g, cfg.right, tsY(v), cfg.right - 6, tsY(v));
  });
  salTicks.slice(1).forEach(v => {
    drawTick(g, fx(v), 923.3, fx(v), 929.3);
    drawTick(g, fx(v), 1706, fx(v), 1700);
  });
  salTicks.forEach((v, i) => drawTickLabel(g, fx(v), 1725, 'middle', salTickLabels[i]));
  if (cfg.yLabels) thetaTicks.forEach(v => drawTickLabel(g, 81, tsY(v), 'end', String(v)));
}
tsPanel({id:'e',left:90,right:741.6,clip:'clipE',cells:cellsE,curveLabels:curveLabelsE,pct:pctLabelsE,red:false,yLabels:true});
tsPanel({id:'f',left:760.4,right:1412.7,clip:'clipF',cells:cellsF,curveLabels:curveLabelsF,pct:pctLabelsF,red:true,yLabels:false});

/* colorbar */
(function () {
  const g = mk('g', {}, root);
  
  
  const cbY = d => 1684 - d * (515 / 15);
  colorLevels.forEach((col, i) => {
    const el = mk('rect', {x: 1430, y: cbY(i + 1), width: 37, height: 515 / 15 + 0.3, fill: col}, g);
    
    
    if (i > 0) {
      const t = mk('line', {x1: 1467, y1: cbY(i), x2: 1461, y2: cbY(i), stroke: '#444', 'stroke-width': 1}, g);
      
      
    }
  });
  const box = mk('rect', {x: 1430, y: 1169, width: 37, height: 515, fill: 'none', stroke: '#777', 'stroke-width': 1}, g);
  
  
  colorbarLabels.forEach(it => {
    const el = mk('text', {x: 1474, y: cbY(it[0]) + (it[2] ? 3 : 0), 'dominant-baseline': 'central', 'class': 'ax'}, g);
    el.textContent = it[1];
    if (it[2]) {
      const sup = mk('tspan', {dy: -7, 'font-size': 12.5}, el);
      sup.textContent = it[2];
    }
    
    
  });
})();
</script>
</body>
</html>
